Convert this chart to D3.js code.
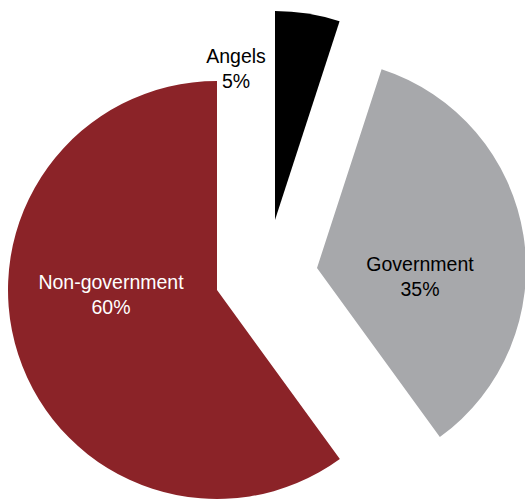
<!DOCTYPE html>
<html>
<head>
<meta charset="utf-8">
<script src="https://cdn.jsdelivr.net/npm/d3@7"></script>
<style>
  html, body { margin: 0; padding: 0; background: #fff; }
  svg { display: block; }
  text { font-family: "Liberation Sans", Arial, sans-serif; }
</style>
</head>
<body>
<svg id="chart" width="525" height="500"></svg>
<script>
// Data
const categories = ["Angels", "Government", "Non-government"];
const values = [5, 35, 60];
const percentLabels = ["5%", "35%", "60%"];

// Styling / layout (not data)
const colors = ["#000000", "#a7a8ab", "#8b2328"];
const textColors = ["#000000", "#000000", "#ffffff"];
const radius = 209;
// exploded slice apex positions
const sliceCenters = [[275, 220], [317, 268], [217, 290]];
// label anchor positions relative to each slice apex
const labelOffsets = [[-39, -157], [103, 3], [-106, -1]];

const svg = d3.select("#chart");

const pie = d3.pie().sort(null).value(d => d.value).startAngle(0).endAngle(2 * Math.PI);
const arcs = pie(categories.map((c, i) => ({ name: c, value: values[i], pct: percentLabels[i], i })));
const arc = d3.arc().innerRadius(0).outerRadius(radius);

const g = svg.selectAll("g.slice").data(arcs).enter().append("g")
  .attr("class", "slice")
  .attr("transform", d => `translate(${sliceCenters[d.data.i][0]},${sliceCenters[d.data.i][1]})`);

g.append("path")
  .attr("d", arc)
  .attr("fill", d => colors[d.data.i]);

g.each(function(d) {
  const sel = d3.select(this);
  const [ox, oy] = labelOffsets[d.data.i];
  const t = sel.append("text")
    .attr("text-anchor", "middle")
    .attr("font-size", "19.5px")
    .attr("fill", textColors[d.data.i]);
  t.append("tspan").attr("x", ox).attr("y", oy).text(d.data.name);
  t.append("tspan").attr("x", ox).attr("y", oy + 24.5).text(d.data.pct);
});
</script>
</body>
</html>
